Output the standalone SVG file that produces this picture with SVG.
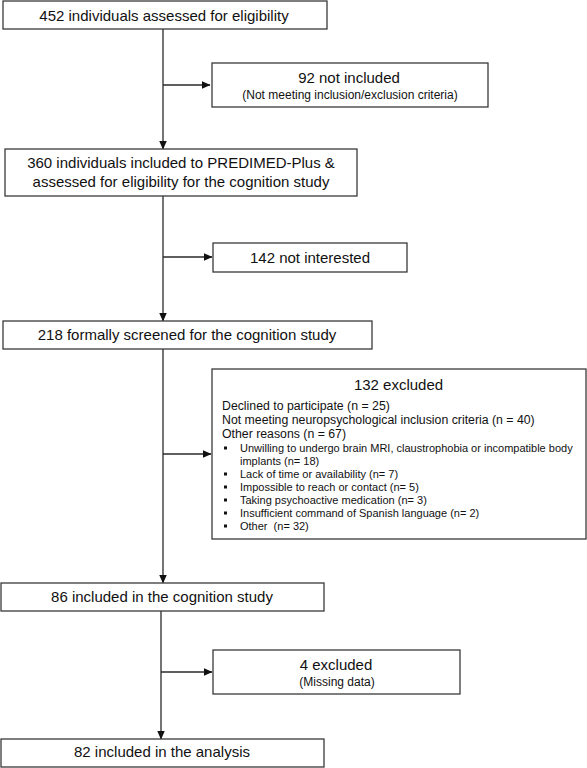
<svg xmlns="http://www.w3.org/2000/svg" width="587" height="768" viewBox="0 0 587 768">
<style>
.box{fill:#fff;stroke:#3a3a3a;stroke-width:1.3}
.edge{fill:none;stroke:#2a2a2a;stroke-width:1.3}
text{font-family:"Liberation Sans",Arial,sans-serif;fill:#111}
.t{font-size:15px;text-anchor:middle}
.s{font-size:12px;text-anchor:middle}
.b{font-size:12.3px}
.l{font-size:11px}
.dot{fill:#111}
</style>
<defs>
<marker id="ah" markerWidth="9" markerHeight="8" refX="8.5" refY="4" orient="auto" markerUnits="userSpaceOnUse">
<path d="M0,0 L9,4 L0,8 Z" fill="#111"/>
</marker>
</defs>
<rect width="587" height="768" fill="#fff"/>
<g id="connectors">
<path class="edge" d="M163,29 V149" marker-end="url(#ah)"/>
<path class="edge" d="M163,85 H210" marker-end="url(#ah)"/>
<path class="edge" d="M163,196 V321" marker-end="url(#ah)"/>
<path class="edge" d="M163,257 H212" marker-end="url(#ah)"/>
<path class="edge" d="M163,349 V583" marker-end="url(#ah)"/>
<path class="edge" d="M163,454 H211" marker-end="url(#ah)"/>
<path class="edge" d="M161,611 V739" marker-end="url(#ah)"/>
<path class="edge" d="M161,672 H212" marker-end="url(#ah)"/>
</g>
<g id="n452">
<rect class="box" x="3" y="1" width="324" height="28"/>
<text class="t" x="164" y="21">452 individuals assessed for eligibility</text>
</g>
<g id="n92">
<rect class="box" x="212" y="63" width="276" height="44"/>
<text class="t" x="349" y="83">92 not included</text>
<text class="s" x="350" y="99">(Not meeting  inclusion/exclusion  criteria)</text>
</g>
<g id="n360">
<rect class="box" x="5" y="149" width="352" height="47"/>
<text class="t" x="181" y="168">360 individuals included to PREDIMED-Plus &amp;</text>
<text class="t" x="181" y="187">assessed for eligibility for the cognition study</text>
</g>
<g id="n142">
<rect class="box" x="213" y="243" width="194" height="29"/>
<text class="t" x="310" y="263">142 not interested</text>
</g>
<g id="n218">
<rect class="box" x="3" y="321" width="369" height="28"/>
<text class="t" x="187" y="340">218 formally screened for the cognition study</text>
</g>
<g id="n132">
<rect class="box" x="212" y="369" width="374" height="170"/>
<text class="t" x="398.5" y="390">132 excluded</text>
<text class="b" x="222" y="409.5">Declined to participate (n = 25)</text>
<text class="b" x="222" y="424">Not meeting neuropsychological inclusion criteria (n = 40)</text>
<text class="b" x="222" y="438">Other reasons (n = 67)</text>
<rect class="dot" x="224" y="446.5" width="3" height="3"/>
<text class="l" x="240" y="452">Unwilling to undergo brain MRI, claustrophobia or incompatible body</text>
<text class="l" x="240" y="465">implants (n= 18)</text>
<rect class="dot" x="224" y="472.5" width="3" height="3"/>
<text class="l" x="240" y="478">Lack of time or availability (n= 7)</text>
<rect class="dot" x="224" y="485.5" width="3" height="3"/>
<text class="l" x="240" y="491">Impossible to reach or contact (n= 5)</text>
<rect class="dot" x="224" y="498.5" width="3" height="3"/>
<text class="l" x="240" y="504">Taking psychoactive medication (n= 3)</text>
<rect class="dot" x="224" y="511.5" width="3" height="3"/>
<text class="l" x="240" y="517">Insufficient command of Spanish language (n= 2)</text>
<rect class="dot" x="224" y="524.5" width="3" height="3"/>
<text class="l" x="240" y="530" xml:space="preserve">Other  (n= 32)</text>
</g>
<g id="n86">
<rect class="box" x="1" y="583" width="323" height="28"/>
<text class="t" x="162" y="602">86 included in the cognition study</text>
</g>
<g id="n4">
<rect class="box" x="213" y="650" width="247" height="44"/>
<text class="t" x="336" y="670">4 excluded</text>
<text class="s" x="337" y="686">(Missing data)</text>
</g>
<g id="n82">
<rect class="box" x="1" y="739" width="323" height="28"/>
<text class="t" x="162" y="757">82 included in the analysis</text>
</g>
</svg>
